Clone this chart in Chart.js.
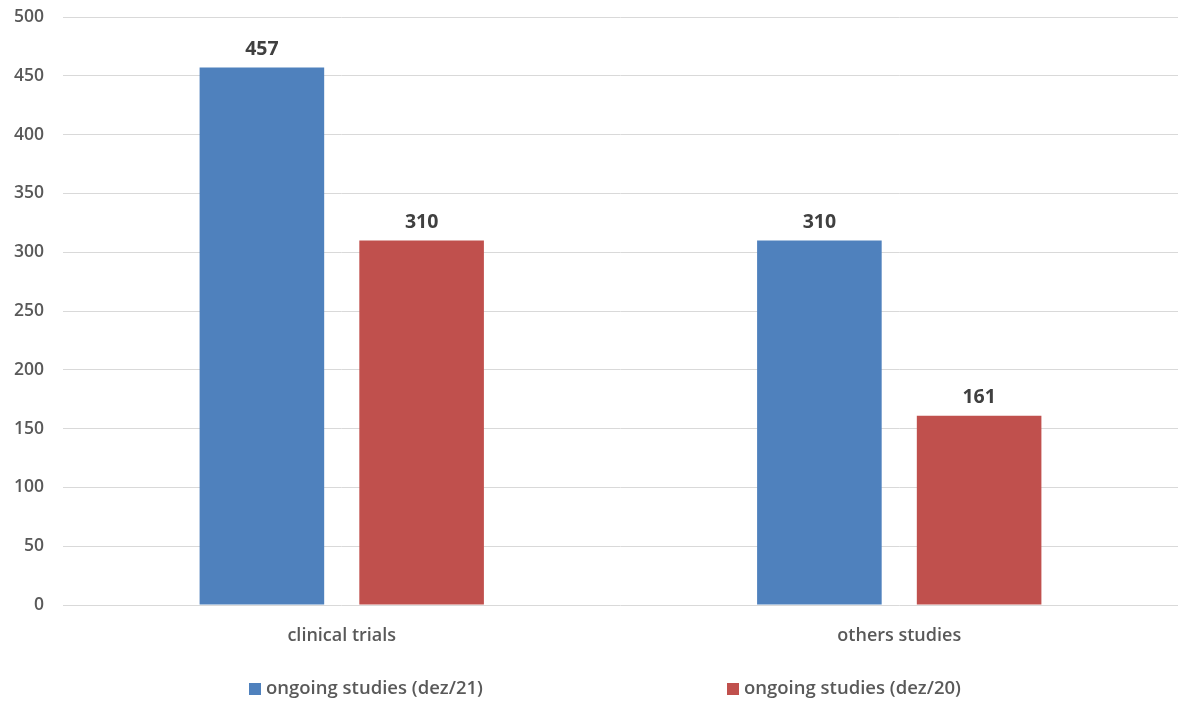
<!DOCTYPE html>
<html>
<head>
<meta charset="utf-8">
<script src="https://cdn.jsdelivr.net/npm/chart.js@4"></script>
<style>
  html, body { margin: 0; padding: 0; background: #ffffff; }
  #wrap { width: 1179px; height: 702px; position: relative; }
</style>
</head>
<body>
<div id="wrap"><canvas id="chart"></canvas></div>
<script>
// Ongoing studies by type, Dec/2021 vs Dec/2020
const categories = ['clinical trials', 'others studies'];
const seriesNames = ['ongoing studies (dez/21)', 'ongoing studies (dez/20)'];
const dez21 = [457, 310];
const dez20 = [310, 161];
const yTicks = [0, 50, 100, 150, 200, 250, 300, 350, 400, 450, 500];

const colors = ['#4F81BD', '#C0504D'];
const FONT = "'Open Sans', 'Liberation Sans', sans-serif";
const textGrey = '#595959';

// Value labels above each bar
const valueLabels = {
  id: 'valueLabels',
  afterDatasetsDraw(chart) {
    const ctx = chart.ctx;
    ctx.save();
    ctx.font = `bold 19.5px ${FONT}`;
    ctx.fillStyle = '#404040';
    ctx.textAlign = 'center';
    ctx.textBaseline = 'bottom';
    chart.data.datasets.forEach((ds, i) => {
      chart.getDatasetMeta(i).data.forEach((bar, j) => {
        ctx.fillText(String(ds.data[j]), bar.x, bar.y - 8);
      });
    });
    ctx.restore();
  }
};

// Bottom legend with wide spacing between entries
const wideLegend = {
  id: 'wideLegend',
  afterDraw(chart) {
    const ctx = chart.ctx;
    const starts = [249, 727];
    const y = 689;
    ctx.save();
    ctx.font = `600 18.5px ${FONT}`;
    ctx.textBaseline = 'middle';
    ctx.textAlign = 'left';
    chart.data.datasets.forEach((ds, i) => {
      ctx.fillStyle = ds.backgroundColor;
      ctx.fillRect(starts[i], y - 6, 12, 12);
      ctx.fillStyle = textGrey;
      ctx.fillText(ds.label, starts[i] + 17, y);
    });
    ctx.restore();
  }
};

new Chart(document.getElementById('chart'), {
  type: 'bar',
  data: {
    labels: categories,
    datasets: [
      { label: seriesNames[0], data: dez21, backgroundColor: colors[0] },
      { label: seriesNames[1], data: dez20, backgroundColor: colors[1] }
    ]
  },
  options: {
    responsive: true,
    maintainAspectRatio: false,
    animation: false,
    devicePixelRatio: 1,
    layout: { padding: { top: 17, right: 1, bottom: 0, left: 0 } },
    categoryPercentage: 0.573,
    barPercentage: 0.78,
    plugins: {
      legend: { display: false },
      tooltip: { enabled: false }
    },
    scales: {
      x: {
        grid: { display: false },
        border: { display: false },
        ticks: {
          color: textGrey,
          font: { family: FONT, size: 18, weight: '600' },
          padding: 12
        },
        afterFit(scale) {
          scale.height = 97;
          scale.paddingLeft = 0;
          scale.paddingRight = 0;
        }
      },
      y: {
        min: 0,
        max: 500,
        afterBuildTicks(scale) { scale.ticks = yTicks.map(v => ({ value: v })); },
        grid: { color: '#d9d9d9', lineWidth: 1, drawTicks: false },
        border: { display: false },
        ticks: {
          color: textGrey,
          font: { family: FONT, size: 17.5, weight: '600' },
          padding: 19
        },
        afterFit(scale) {
          scale.width = 63;
          scale.paddingTop = 0;
          scale.paddingBottom = 0;
        }
      }
    }
  },
  plugins: [valueLabels, wideLegend]
});
</script>
</body>
</html>
